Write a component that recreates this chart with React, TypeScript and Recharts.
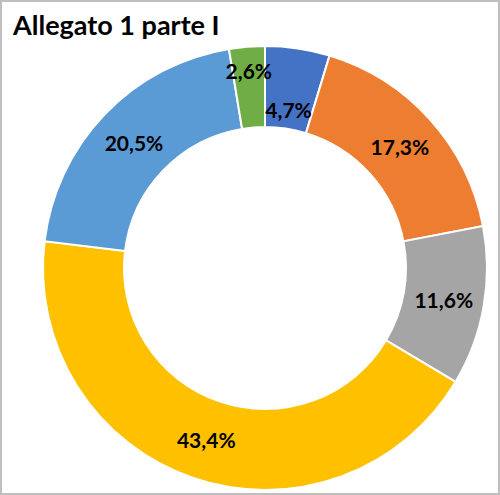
import React from 'react';
import { PieChart, Pie, Cell } from 'recharts';

const CATEGORIES = ['A', 'B', 'C', 'D', 'E', 'F'];
const VALUES = [4.7, 17.3, 11.6, 43.4, 20.5, 2.6];
const COLORS = ['#4472C4', '#ED7D31', '#A5A5A5', '#FFC000', '#5B9BD5', '#70AD47'];
// radial nudge (px) for the two thin slices so their labels don't collide
const LABEL_SHIFT = [-21, 0, 0, 0, 0, 17];

const data = CATEGORIES.map((name, i) => ({ name, value: VALUES[i] }));

const RADIAN = Math.PI / 180;

const renderLabel = (props: any) => {
    const { cx, cy, midAngle, innerRadius, outerRadius, value, index } = props;
    const r = (innerRadius + outerRadius) / 2 + (LABEL_SHIFT[index] || 0);
    const x = cx + r * Math.cos(-midAngle * RADIAN);
    const y = cy + r * Math.sin(-midAngle * RADIAN);
    return (
        <text
            x={x}
            y={y}
            fill="#000"
            textAnchor="middle"
            dominantBaseline="central"
            fontFamily="Lato, 'Open Sans', sans-serif"
            fontWeight="bold"
            fontSize={21}
        >
            {value.toFixed(1).replace('.', ',')}%
        </text>
    );
};

export default function App() {
    return (
        <div
            style={{
                position: 'absolute',
                left: 0,
                top: 0,
                width: 500,
                height: 495,
                border: '2px solid #BFBFBF',
                boxSizing: 'border-box',
                background: '#fff',
            }}
        >
            <div
                style={{
                    position: 'absolute',
                    left: 11,
                    top: 9,
                    fontFamily: "Lato, 'Open Sans', sans-serif",
                    fontWeight: 'bold',
                    fontSize: 27,
                    color: '#000',
                    lineHeight: 1,
                    zIndex: 1,
                }}
            >
                Allegato 1 parte I
            </div>
            <PieChart width={496} height={491} style={{ position: 'absolute', left: 0, top: 0 }}>
                <Pie
                    data={data}
                    dataKey="value"
                    cx={258}
                    cy={261}
                    innerRadius={141}
                    outerRadius={222}
                    startAngle={90}
                    endAngle={-270}
                    stroke="#fff"
                    strokeWidth={2}
                    label={renderLabel}
                    labelLine={false}
                    isAnimationActive={false}
                >
                    {data.map((_entry, index) => (
                        <Cell key={`cell-${index}`} fill={COLORS[index]} />
                    ))}
                </Pie>
            </PieChart>
        </div>
    );
}
